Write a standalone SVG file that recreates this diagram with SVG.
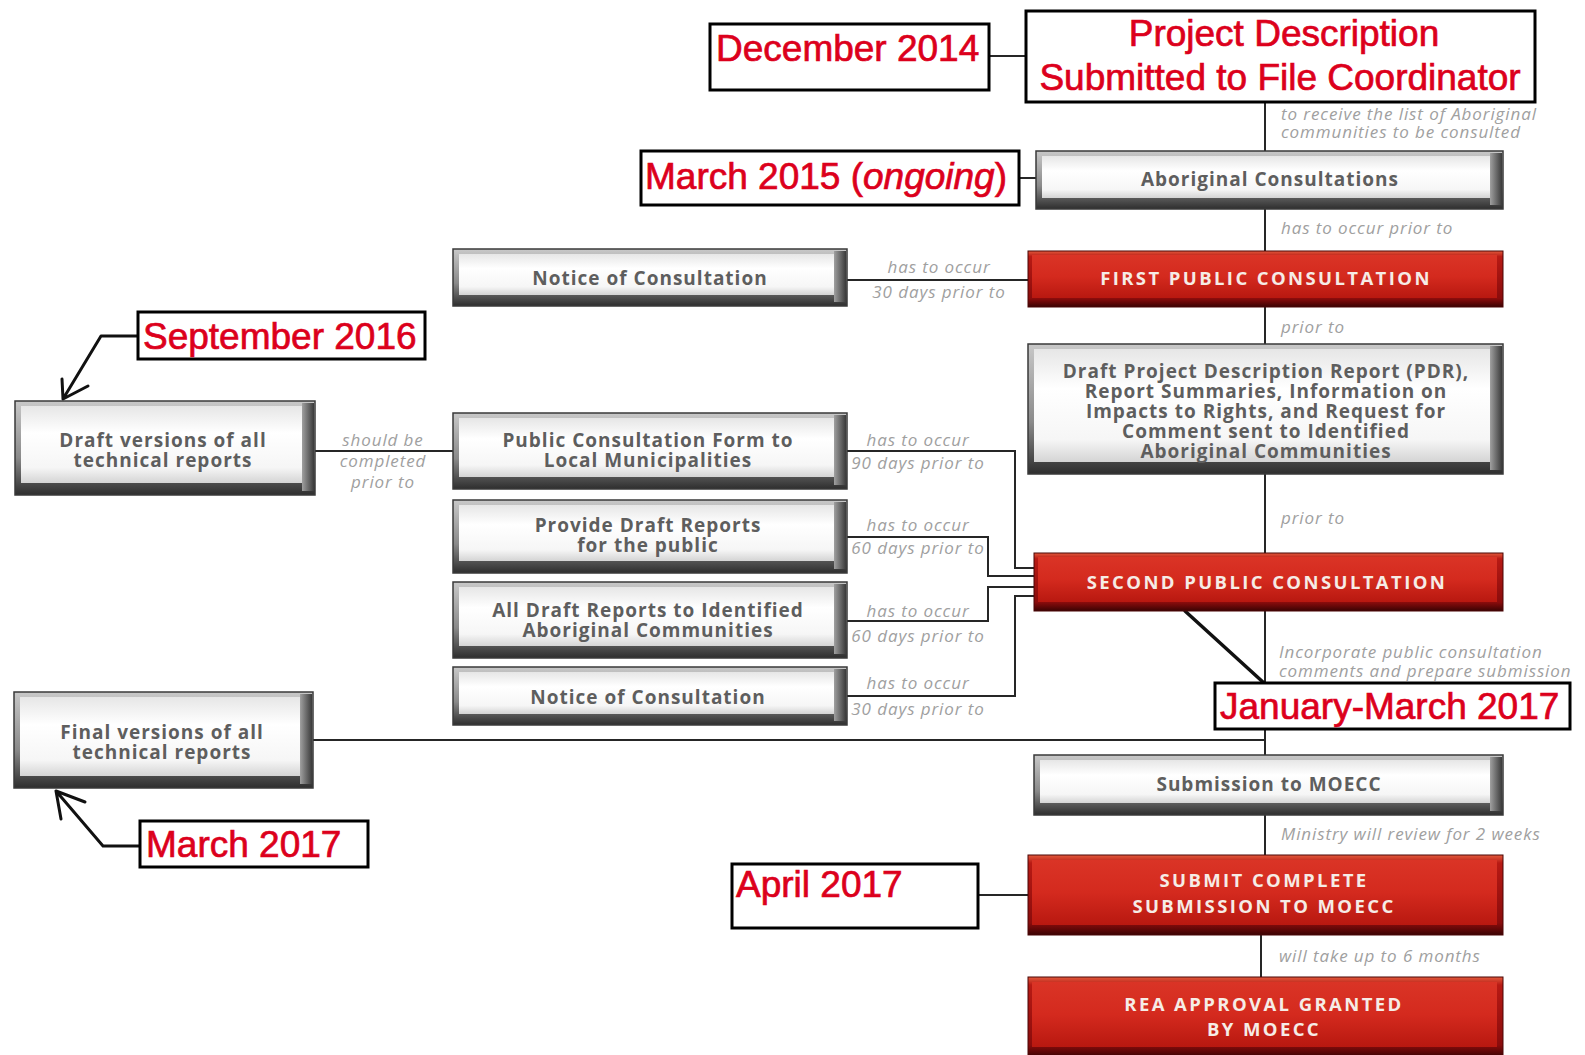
<svg xmlns="http://www.w3.org/2000/svg" width="1585" height="1055" viewBox="0 0 1585 1055">
<defs>
<linearGradient id="gOut" x1="0" y1="0" x2="0" y2="1">
<stop offset="0" stop-color="#c8c8c8"/><stop offset="0.6" stop-color="#8a8a8a"/><stop offset="1" stop-color="#2e2e2e"/>
</linearGradient>
<linearGradient id="gIn" x1="0" y1="0" x2="0" y2="1">
<stop offset="0" stop-color="#e6e6e6"/><stop offset="0.35" stop-color="#ffffff"/><stop offset="0.8" stop-color="#f6f6f6"/><stop offset="1" stop-color="#d4d4d4"/>
</linearGradient>
<linearGradient id="gRight" x1="0" y1="0" x2="1" y2="0">
<stop offset="0" stop-color="#a0a0a0"/><stop offset="1" stop-color="#3a3a3a"/>
</linearGradient>
<linearGradient id="rOut" x1="0" y1="0" x2="0" y2="1">
<stop offset="0" stop-color="#e25a3c"/><stop offset="0.1" stop-color="#b81a14"/><stop offset="0.85" stop-color="#8a0c0c"/><stop offset="1" stop-color="#3a0303"/>
</linearGradient>
<linearGradient id="rIn" x1="0" y1="0" x2="0" y2="1">
<stop offset="0" stop-color="#da3426"/><stop offset="0.5" stop-color="#d42a1e"/><stop offset="1" stop-color="#b81810"/>
</linearGradient>
</defs>
<style>
.bg{fill:#ffffff}
.con{stroke:#262626;stroke-width:2;fill:none}
.arr{stroke:#111;stroke-width:3;fill:none;stroke-linecap:round;stroke-linejoin:round}
.gout{fill:url(#gOut);stroke:#3a3a3a;stroke-width:1.5}
.gin{fill:url(#gIn)}
.gr{fill:url(#gRight)}
.rout{fill:url(#rOut);stroke:#4a0606;stroke-width:1}
.rin{fill:url(#rIn)}
.gt{font-family:"Open Sans","DejaVu Sans",sans-serif;font-weight:700;font-size:19px;fill:#5e5e5e;text-anchor:middle;letter-spacing:1px}
.rt{font-family:"Open Sans","DejaVu Sans",sans-serif;font-weight:700;font-size:18.5px;fill:#f6ece6;text-anchor:middle;letter-spacing:2.4px}
.lab{font-family:"Open Sans","DejaVu Sans",sans-serif;font-style:italic;font-size:17px;fill:#a0a0a0;letter-spacing:0.9px}
.labc{font-family:"Open Sans","DejaVu Sans",sans-serif;font-style:italic;font-size:17px;fill:#a0a0a0;text-anchor:middle;letter-spacing:0.9px}
.dbox{fill:#ffffff;stroke:#000;stroke-width:3}
.dt{font-family:"Liberation Sans",Arial,sans-serif;font-size:37px;fill:#dc001c;stroke:#dc001c;stroke-width:0.7px}
</style>
<rect class="bg" x="0" y="0" width="1585" height="1055"/>

<g id="connectors">
<path class="con" d="M1265,102 V151 M1265,209 V251 M1265,307 V344 M1265,474 V553 M1265,611 V755 M1265,815 V855 M1261,935 V977"/>
<path class="con" d="M989,56 H1026 M1019,178 H1036 M978,895 H1028 M315,451 H453 M847,280 H1028 M313,740 H1265"/>
<path class="con" d="M847,451 H1015 V568 H1034 M847,537 H988 V576 H1034 M847,621 H988 V587 H1034 M847,696 H1015 V596 H1034"/>
<path class="arr" d="M1185,611 L1264,683" style="stroke-width:3.5"/>
<path class="arr" d="M138,336 H101 L63,399 M63,399 L62,379 M63,399 L88,386"/>
<path class="arr" d="M140,846 H103 L56,791 M56,791 L61,819 M56,791 L85,802"/>
</g>

<g id="labels">
<text class="lab" x="1281" y="120">to receive the list of Aboriginal</text>
<text class="lab" x="1281" y="138">communities to be consulted</text>
<text class="lab" x="1281" y="234">has to occur prior to</text>
<text class="lab" x="1281" y="333">prior to</text>
<text class="lab" x="1281" y="524">prior to</text>
<text class="lab" x="1279" y="658">Incorporate public consultation</text>
<text class="lab" x="1279" y="677">comments and prepare submission</text>
<text class="lab" x="1281" y="840">Ministry will review for 2 weeks</text>
<text class="lab" x="1279" y="962">will take up to 6 months</text>
<text class="labc" x="939" y="273">has to occur</text>
<text class="labc" x="939" y="298">30 days prior to</text>
<text class="labc" x="918" y="446">has to occur</text>
<text class="labc" x="918" y="469">90 days prior to</text>
<text class="labc" x="918" y="531">has to occur</text>
<text class="labc" x="918" y="554">60 days prior to</text>
<text class="labc" x="918" y="617">has to occur</text>
<text class="labc" x="918" y="642">60 days prior to</text>
<text class="labc" x="918" y="689">has to occur</text>
<text class="labc" x="918" y="715">30 days prior to</text>
<text class="labc" x="383" y="446">should be</text>
<text class="labc" x="383" y="467">completed</text>
<text class="labc" x="383" y="488">prior to</text>
</g>

<g id="n-project">
<rect class="dbox" x="1026" y="11" width="509" height="91"/>
<text class="dt" x="1284" y="46" text-anchor="middle">Project Description</text>
<text class="dt" x="1280" y="90" text-anchor="middle">Submitted to File Coordinator</text>
</g>
<g id="n-dec2014">
<rect class="dbox" x="710" y="24" width="279" height="66"/>
<text class="dt" x="716" y="61">December 2014</text>
</g>
<g id="n-mar2015">
<rect class="dbox" x="641" y="151" width="378" height="54"/>
<text class="dt" x="645" y="189">March 2015 (<tspan font-style="italic">ongoing</tspan>)</text>
</g>
<g id="n-sep2016">
<rect class="dbox" x="138" y="312" width="287" height="47"/>
<text class="dt" x="143" y="349">September 2016</text>
</g>
<g id="n-janmar2017">
<rect class="dbox" x="1215" y="683" width="355" height="46"/>
<text class="dt" x="1220" y="719">January-March 2017</text>
</g>
<g id="n-mar2017">
<rect class="dbox" x="140" y="821" width="228" height="46"/>
<text class="dt" x="146" y="857">March 2017</text>
</g>
<g id="n-apr2017">
<rect class="dbox" x="732" y="864" width="246" height="64"/>
<text class="dt" x="736" y="897">April 2017</text>
</g>

<g id="n-aboriginal">
<rect class="gout" x="1036" y="151" width="467" height="58"/>
<rect class="gr" x="1490" y="153" width="12" height="52"/>
<rect class="gin" x="1042" y="156" width="448" height="42"/>
<text class="gt" x="1270" y="186">Aboriginal Consultations</text>
</g>
<g id="n-notice1">
<rect class="gout" x="453" y="249" width="394" height="57"/>
<rect class="gr" x="834" y="251" width="12" height="51"/>
<rect class="gin" x="459" y="254" width="375" height="41"/>
<text class="gt" x="650" y="285">Notice of Consultation</text>
</g>
<g id="n-first">
<rect class="rout" x="1028" y="251" width="475" height="56"/>
<rect class="rin" x="1032" y="255" width="465" height="43"/>
<text class="rt" x="1266" y="285">FIRST PUBLIC CONSULTATION</text>
</g>
<g id="n-pdr">
<rect class="gout" x="1028" y="344" width="475" height="130"/>
<rect class="gr" x="1490" y="346" width="12" height="124"/>
<rect class="gin" x="1034" y="349" width="456" height="113"/>
<text class="gt" x="1266" y="378">Draft Project Description Report (PDR),</text>
<text class="gt" x="1266" y="398">Report Summaries, Information on</text>
<text class="gt" x="1266" y="418">Impacts to Rights, and Request for</text>
<text class="gt" x="1266" y="438">Comment sent to Identified</text>
<text class="gt" x="1266" y="458">Aboriginal Communities</text>
</g>
<g id="n-draftver">
<rect class="gout" x="15" y="401" width="300" height="94"/>
<rect class="gr" x="302" y="403" width="12" height="88"/>
<rect class="gin" x="21" y="406" width="281" height="77"/>
<text class="gt" x="163" y="447">Draft versions of all</text>
<text class="gt" x="163" y="467">technical reports</text>
</g>
<g id="n-pcf">
<rect class="gout" x="453" y="413" width="394" height="76"/>
<rect class="gr" x="834" y="415" width="12" height="70"/>
<rect class="gin" x="459" y="418" width="375" height="59"/>
<text class="gt" x="648" y="447">Public Consultation Form to</text>
<text class="gt" x="648" y="467">Local Municipalities</text>
</g>
<g id="n-provide">
<rect class="gout" x="453" y="500" width="394" height="73"/>
<rect class="gr" x="834" y="502" width="12" height="67"/>
<rect class="gin" x="459" y="505" width="375" height="56"/>
<text class="gt" x="648" y="532">Provide Draft Reports</text>
<text class="gt" x="648" y="552">for the public</text>
</g>
<g id="n-alldraft">
<rect class="gout" x="453" y="582" width="394" height="76"/>
<rect class="gr" x="834" y="584" width="12" height="70"/>
<rect class="gin" x="459" y="587" width="375" height="59"/>
<text class="gt" x="648" y="617">All Draft Reports to Identified</text>
<text class="gt" x="648" y="637">Aboriginal Communities</text>
</g>
<g id="n-notice2">
<rect class="gout" x="453" y="667" width="394" height="58"/>
<rect class="gr" x="834" y="669" width="12" height="52"/>
<rect class="gin" x="459" y="672" width="375" height="42"/>
<text class="gt" x="648" y="704">Notice of Consultation</text>
</g>
<g id="n-second">
<rect class="rout" x="1034" y="553" width="469" height="58"/>
<rect class="rin" x="1038" y="557" width="459" height="45"/>
<text class="rt" x="1267" y="589">SECOND PUBLIC CONSULTATION</text>
</g>
<g id="n-finalver">
<rect class="gout" x="14" y="692" width="299" height="96"/>
<rect class="gr" x="300" y="694" width="12" height="90"/>
<rect class="gin" x="20" y="697" width="280" height="79"/>
<text class="gt" x="162" y="739">Final versions of all</text>
<text class="gt" x="162" y="759">technical reports</text>
</g>
<g id="n-submission">
<rect class="gout" x="1034" y="755" width="469" height="60"/>
<rect class="gr" x="1490" y="757" width="12" height="54"/>
<rect class="gin" x="1040" y="760" width="450" height="43"/>
<text class="gt" x="1269" y="791">Submission to MOECC</text>
</g>
<g id="n-submit">
<rect class="rout" x="1028" y="855" width="475" height="80"/>
<rect class="rin" x="1032" y="860" width="465" height="65"/>
<text class="rt" x="1264" y="887">SUBMIT COMPLETE</text>
<text class="rt" x="1264" y="913">SUBMISSION TO MOECC</text>
</g>
<g id="n-rea">
<rect class="rout" x="1028" y="977" width="475" height="80"/>
<rect class="rin" x="1032" y="982" width="465" height="65"/>
<text class="rt" x="1264" y="1011">REA APPROVAL GRANTED</text>
<text class="rt" x="1264" y="1036">BY MOECC</text>
</g>
</svg>
